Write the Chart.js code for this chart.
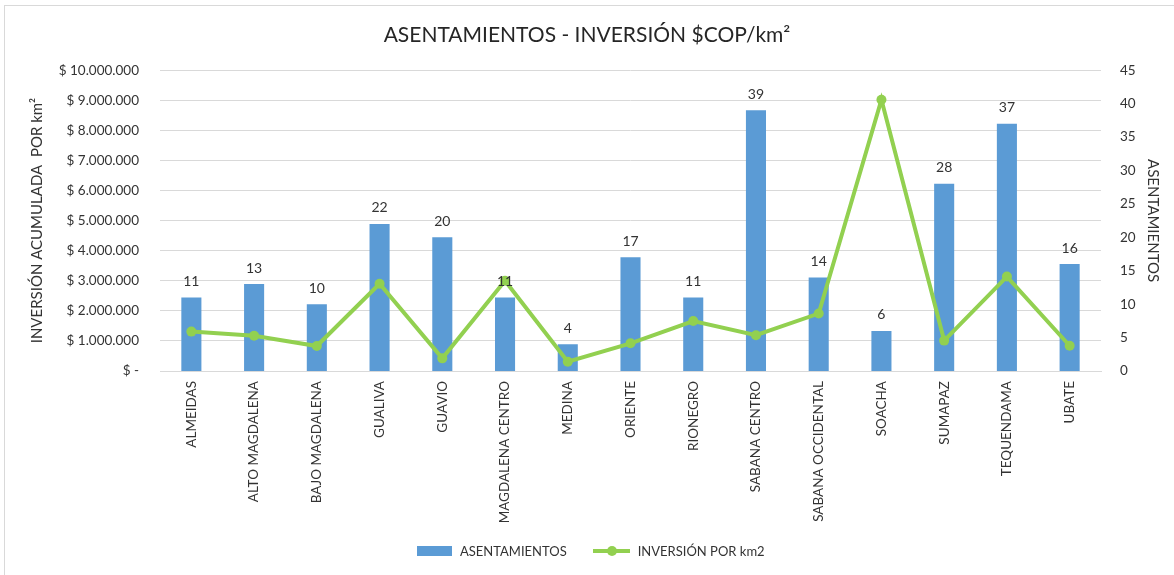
<!DOCTYPE html>
<html>
<head>
<meta charset="utf-8">
<script src="https://cdn.jsdelivr.net/npm/chart.js@4.4.1/dist/chart.umd.min.js"></script>
<style>
    html, body { margin: 0; padding: 0; background: #fff; }
    body { width: 1174px; height: 575px; position: relative; overflow: hidden; font-family: Lato, sans-serif; }
    #frame { position: absolute; left: 4px; top: 5px; width: 1200px; height: 600px; border-left: 1px solid #d9d9d9; border-top: 1px solid #d9d9d9; }
    #chart-box { position: absolute; left: 0; top: 0; width: 1174px; height: 575px; }
    #legend { position: absolute; left: 417px; top: 543px; display: flex; align-items: center; font-size: 13px; color: #333; }
    .item { display: flex; align-items: center; margin-right: 26px; }
    .swatch-bar { width: 35px; height: 10px; margin-right: 8px; }
    .swatch-line { position: relative; width: 37px; height: 4px; margin-right: 8px; }
    .swatch-line span { position: absolute; left: 14px; top: -3px; width: 10px; height: 10px; border-radius: 50%; }
</style>
</head>
<body>
<div id="frame"></div>
<div id="chart-box"><canvas id="combo-chart" width="1174" height="575"></canvas></div>
<div id="legend"></div>
<script>
const provincias = ['ALMEIDAS', 'ALTO MAGDALENA', 'BAJO MAGDALENA', 'GUALIVA', 'GUAVIO',
    'MAGDALENA CENTRO', 'MEDINA', 'ORIENTE', 'RIONEGRO', 'SABANA CENTRO',
    'SABANA OCCIDENTAL', 'SOACHA', 'SUMAPAZ', 'TEQUENDAMA', 'UBATE'];
const asentamientos = [11, 13, 10, 22, 20, 11, 4, 17, 11, 39, 14, 6, 28, 37, 16];
const inversionKm2 = [1310000, 1170000, 830000, 2900000, 420000, 3000000, 310000, 920000,
    1660000, 1190000, 1910000, 9020000, 1010000, 3140000, 840000];

const BLUE = '#5b9bd5';
const GREEN = '#92d050';
const TEXT = '#333333';
const GRID = '#d9d9d9';

function pesos(value) {
    if (value === 0) return '$ -';
    return '$ ' + value.toString().replace(/\B(?=(\d{3})+(?!\d))/g, '.');
}

// numbers on top of each bar
const barLabels = {
    id: 'barLabels',
    afterDatasetsDraw(chart) {
        const ctx = chart.ctx;
        const meta = chart.getDatasetMeta(0);
        ctx.save();
        ctx.font = '14px Lato';
        ctx.fillStyle = TEXT;
        ctx.textAlign = 'center';
        ctx.textBaseline = 'bottom';
        meta.data.forEach((bar, i) => {
            ctx.fillText(asentamientos[i], bar.x, bar.y - 9);
        });
        ctx.restore();
    }
};

let ctx = document.getElementById('combo-chart').getContext('2d');
window.myChart = new Chart(ctx, {
    type: 'bar',
    data: {
        labels: provincias,
        datasets: [{
            type: 'bar',
            label: 'ASENTAMIENTOS',
            data: asentamientos,
            yAxisID: 'yRight',
            backgroundColor: BLUE,
            categoryPercentage: 1,
            barPercentage: 0.32,
            order: 2
        }, {
            type: 'line',
            label: 'INVERSIÓN POR km2',
            data: inversionKm2,
            yAxisID: 'yLeft',
            borderColor: GREEN,
            backgroundColor: GREEN,
            borderWidth: 4,
            pointRadius: 5,
            pointBorderWidth: 0,
            tension: 0,
            order: 1
        }]
    },
    options: {
        responsive: false,
        animation: false,
        layout: { padding: { left: 0, right: 0, top: 0, bottom: 44 } },
        plugins: {
            legend: { display: false },
            tooltip: { enabled: false },
            title: {
                display: true,
                text: 'ASENTAMIENTOS - INVERSIÓN $COP/km²',
                color: '#262626',
                font: { family: 'Lato', size: 21, weight: 'normal' },
                padding: { top: 23, bottom: 22 }
            }
        },
        scales: {
            x: {
                grid: { display: false, drawTicks: false },
                border: { display: true, color: GRID, width: 1 },
                ticks: {
                    color: TEXT,
                    font: { family: 'Lato', size: 13.5 },
                    minRotation: 90,
                    maxRotation: 90,
                    autoSkip: false,
                    padding: 10
                },
                afterFit(scale) { scale.height = 160; }
            },
            yLeft: {
                position: 'left',
                min: 0,
                max: 10000000,
                grid: { color: GRID, drawTicks: false },
                border: { display: false },
                ticks: {
                    stepSize: 1000000,
                    color: TEXT,
                    font: { family: 'Lato', size: 13.5 },
                    padding: 21,
                    callback: (v) => pesos(v)
                },
                title: {
                    display: true,
                    text: 'INVERSIÓN ACUMULADA  POR km²',
                    color: TEXT,
                    font: { family: 'Lato', size: 15 },
                    padding: { top: 28, bottom: 0 }
                },
                afterFit(scale) { scale.width = 160; }
            },
            yRight: {
                position: 'right',
                min: 0,
                max: 45,
                grid: { display: false, drawTicks: false },
                border: { display: false },
                ticks: {
                    stepSize: 5,
                    color: TEXT,
                    font: { family: 'Lato', size: 13.5 },
                    padding: 19
                },
                title: {
                    display: true,
                    text: 'ASENTAMIENTOS',
                    color: TEXT,
                    font: { family: 'Lato', size: 15 },
                    padding: { top: 12, bottom: 0 }
                },
                afterFit(scale) { scale.width = 73; }
            }
        }
    },
    plugins: [barLabels]
});

// legend built from the datasets
let legendDiv = document.getElementById('legend');
window.myChart.data.datasets.forEach(ds => {
    let item = document.createElement('div');
    item.classList.add('item');
    if (ds.type === 'bar') {
        item.innerHTML = `<div class="swatch-bar" style="background:${ds.backgroundColor}"></div><span>${ds.label}</span>`;
    } else {
        item.innerHTML = `<div class="swatch-line" style="background:${ds.borderColor}"><span style="background:${ds.borderColor}"></span></div><span>${ds.label}</span>`;
    }
    legendDiv.appendChild(item);
});
</script>
</body>
</html>
